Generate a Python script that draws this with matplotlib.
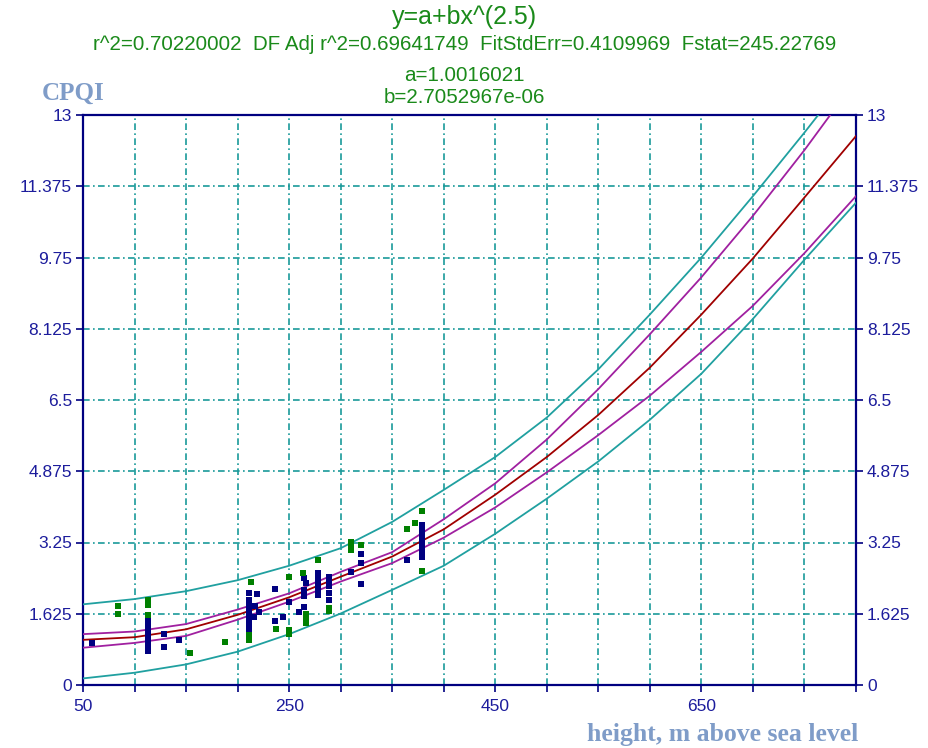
import numpy as np
import matplotlib.pyplot as plt

# height (m) at which curves were read
xs = [50, 100, 150, 200, 250, 300, 350, 400, 450, 500, 550, 600, 650, 700, 750, 800]
fit = [1.03, 1.09, 1.27, 1.60, 2.00, 2.47, 2.93, 3.55, 4.34, 5.20, 6.16, 7.24, 8.45, 9.73, 11.12, 12.52]
conf_hi = [1.16, 1.22, 1.39, 1.72, 2.09, 2.58, 3.03, 3.78, 4.60, 5.60, 6.75, 8.00, 9.30, 10.70, 12.20, 13.80]
conf_lo = [0.85, 0.96, 1.12, 1.49, 1.90, 2.36, 2.78, 3.36, 4.05, 4.85, 5.70, 6.60, 7.60, 8.65, 9.85, 11.15]
pred_hi = [1.84, 1.96, 2.14, 2.39, 2.72, 3.12, 3.72, 4.45, 5.20, 6.10, 7.20, 8.45, 9.75, 11.15, 12.60, 14.10]
pred_lo = [0.15, 0.28, 0.47, 0.76, 1.16, 1.63, 2.17, 2.72, 3.45, 4.25, 5.10, 6.05, 7.10, 8.35, 9.70, 11.00]

# measured points
navy_x = [59, 113, 113, 113, 113, 113, 113, 113, 128.6, 128.6, 143,
          211, 211, 211, 211, 211, 211, 211, 211, 217, 216, 218.5, 221,
          236.5, 236.5, 244.3, 250, 260, 264, 266, 264, 264, 264,
          278.3, 278.3, 278.3, 278.3, 278.3, 288.7, 288.7, 288.7, 288.7, 288.7,
          309.7, 319.4, 319.4, 319.4, 364,
          378.6, 378.6, 378.6, 378.6, 378.6, 378.6, 378.6]
navy_y = [0.95, 1.52, 1.38, 1.25, 1.12, 0.98, 0.85, 0.78, 1.16, 0.87, 1.03,
          2.09, 1.95, 1.82, 1.71, 1.60, 1.48, 1.37, 1.25, 1.80, 1.55, 2.07, 1.67,
          2.18, 1.47, 1.55, 1.90, 1.67, 2.43, 2.32, 2.17, 2.03, 1.79,
          2.55, 2.44, 2.33, 2.20, 2.05, 2.47, 2.35, 2.25, 2.10, 1.94,
          2.58, 2.99, 2.79, 2.30, 2.85,
          3.65, 3.55, 3.45, 3.32, 3.20, 3.05, 2.93]
green_x = [84, 84, 113.4, 113.4, 113.4, 153.8, 188, 212.7, 211.5, 211,
           237, 250, 250, 250, 263.7, 266, 266, 266, 278.3, 289, 289,
           309.7, 309.7, 309.7, 319.4, 364, 372.4, 378.6, 378.6]
green_y = [1.80, 1.62, 1.94, 1.82, 1.60, 0.74, 0.98, 2.34, 1.14, 1.03,
           1.27, 2.47, 1.25, 1.16, 2.55, 1.62, 1.52, 1.41, 2.85, 1.75, 1.68,
           3.27, 3.17, 3.08, 3.19, 3.55, 3.69, 3.97, 2.61]

x_ticks = list(range(50, 801, 50))
x_labels = ['50', '', '', '', '250', '', '', '', '450', '', '', '', '650', '', '', '']
y_ticks = [0, 1.625, 3.25, 4.875, 6.5, 8.125, 9.75, 11.375, 13]
y_labels = ['0', '1.625', '3.25', '4.875', '6.5', '8.125', '9.75', '11.375', '13']

navy = '#000080'
teal = '#20a0a0'
purple = '#a020a0'
darkred = '#a00000'
green_txt = '#1a8a1a'
pale = '#7f9cc8'

fig = plt.figure(figsize=(9.29, 7.48), dpi=100)
ax = fig.add_axes([83/929, 1 - 685/748, (856 - 83)/929, (685 - 115)/748])

ax.plot(xs, pred_hi, color=teal, lw=1.3, zorder=3)
ax.plot(xs, pred_lo, color=teal, lw=1.3, zorder=3)
ax.plot(xs, conf_hi, color=purple, lw=1.3, zorder=3)
ax.plot(xs, conf_lo, color=purple, lw=1.3, zorder=3)
ax.plot(xs, fit, color=darkred, lw=1.3, zorder=3)

ax.scatter(navy_x, navy_y, marker='s', s=20, color=navy, linewidths=0, zorder=4)
ax.scatter(green_x, green_y, marker='s', s=20, color='#008000', linewidths=0, zorder=4)

ax.set_xlim(50, 800)
ax.set_ylim(0, 13)
ax.set_xticks(x_ticks)
ax.set_xticklabels(x_labels)
ax.set_yticks(y_ticks)
ax.set_yticklabels(y_labels)
ax.grid(True, color='#1a9a9a', linestyle=(0, (4, 2, 1, 2)), linewidth=1.2, zorder=1)
ax.set_axisbelow(True)

for sp in ax.spines.values():
    sp.set_color(navy)
    sp.set_linewidth(1.6)

ax.tick_params(axis='both', direction='out', length=5, width=1.2, color=navy,
               labelcolor='#1c1c9c', labelsize=12.5)
ax.tick_params(axis='y', right=True, labelright=True, pad=3)
ax.tick_params(axis='x', pad=5)
for lab in ax.get_xticklabels() + ax.get_yticklabels():
    lab.set_fontfamily('Liberation Sans')

fig.text(0.5, 0.977, 'y=a+bx^(2.5)', ha='center', va='center', color=green_txt,
         fontsize=18, family='Liberation Sans')
fig.text(0.5, 0.94, 'r^2=0.70220002  DF Adj r^2=0.69641749  FitStdErr=0.4109969  Fstat=245.22769',
         ha='center', va='center', color=green_txt, fontsize=14.8, family='Liberation Sans')
fig.text(0.5, 0.899, 'a=1.0016021', ha='center', va='center', color=green_txt,
         fontsize=14.8, family='Liberation Sans')
fig.text(0.5, 0.869, 'b=2.7052967e-06', ha='center', va='center', color=green_txt,
         fontsize=14.8, family='Liberation Sans')

fig.text(42/929, 1 - 93/748, 'CPQI', ha='left', va='center', color=pale,
         fontsize=18, fontweight='bold', family='Liberation Serif')
fig.text(858/929, 1 - 735/748, 'height, m above sea level', ha='right', va='center',
         color=pale, fontsize=18.5, fontweight='bold', family='Liberation Serif')

fig.savefig('out.png', dpi=100)
